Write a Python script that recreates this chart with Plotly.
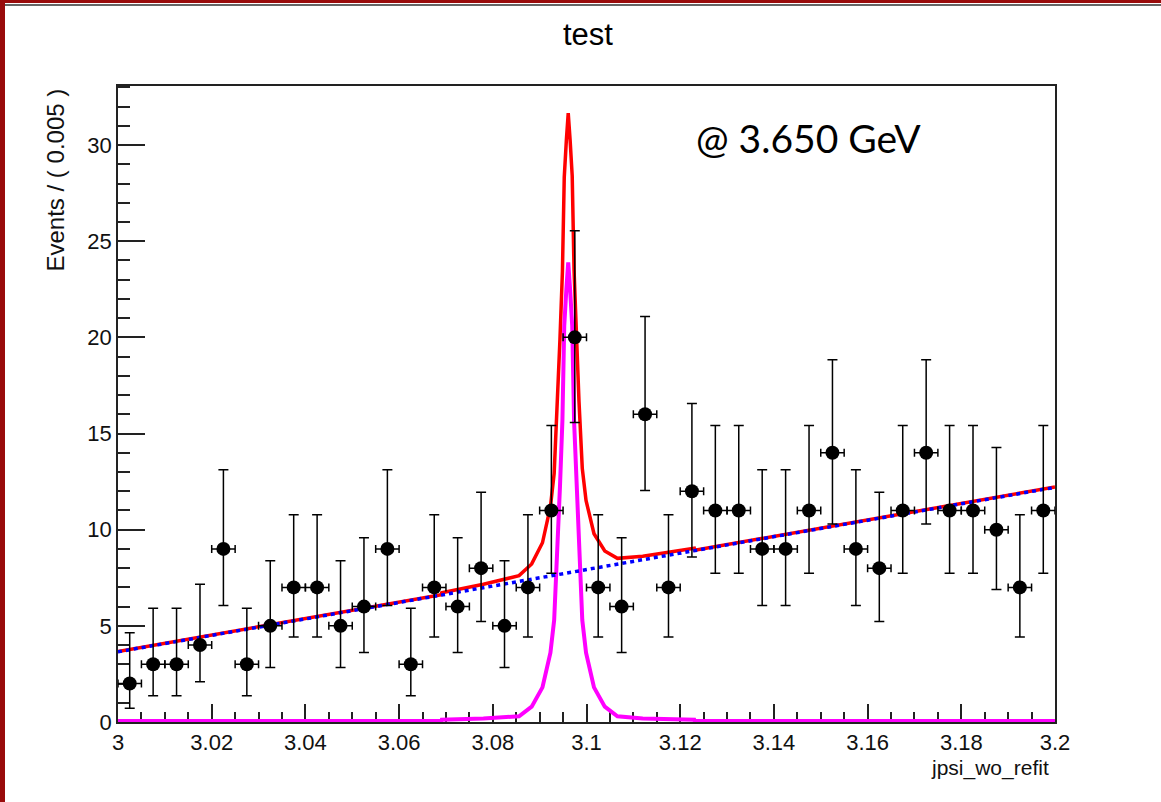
import plotly.graph_objects as go

# ---------------- data ----------------
bin_centers = [3.0025, 3.0075, 3.0125, 3.0175, 3.0225, 3.0275, 3.0325, 3.0375, 3.0425, 3.0475,
               3.0525, 3.0575, 3.0625, 3.0675, 3.0725, 3.0775, 3.0825, 3.0875, 3.0925, 3.0975,
               3.1025, 3.1075, 3.1125, 3.1175, 3.1225, 3.1275, 3.1325, 3.1375, 3.1425, 3.1475,
               3.1525, 3.1575, 3.1625, 3.1675, 3.1725, 3.1775, 3.1825, 3.1875, 3.1925, 3.1975]
counts = [2, 3, 3, 4, 9, 3, 5, 7, 7, 5,
          6, 9, 3, 7, 6, 8, 5, 7, 11, 20,
          7, 6, 16, 7, 12, 11, 11, 9, 9, 11,
          14, 9, 8, 11, 14, 11, 11, 10, 7, 11]
err_low = [1.29, 1.63, 1.63, 1.91, 2.94, 1.63, 2.16, 2.58, 2.58, 2.16,
           2.38, 2.94, 1.63, 2.58, 2.38, 2.77, 2.16, 2.58, 3.27, 4.43,
           2.58, 2.38, 3.96, 2.58, 3.42, 3.27, 3.27, 2.94, 2.94, 3.27,
           3.70, 2.94, 2.77, 3.27, 3.70, 3.27, 3.27, 3.11, 2.58, 3.27]
err_high = [2.64, 2.92, 2.92, 3.16, 4.11, 2.92, 3.38, 3.77, 3.77, 3.38,
            3.58, 4.11, 2.92, 3.77, 3.58, 3.95, 3.38, 3.77, 4.42, 5.54,
            3.77, 3.58, 5.08, 3.77, 4.56, 4.42, 4.42, 4.11, 4.11, 4.42,
            4.83, 4.11, 3.95, 4.42, 4.83, 4.42, 4.42, 4.27, 3.77, 4.42]
half_bin = 0.0025

# fitted curves
curve_x = [3.0000, 3.0690, 3.0691, 3.0780, 3.0856, 3.0883, 3.0906, 3.0923, 3.0931, 3.0938,
           3.09433, 3.09486, 3.09525, 3.0957, 3.0961, 3.0965, 3.09695, 3.09734, 3.09787, 3.0984,
           3.0991, 3.0999, 3.1016, 3.1039, 3.1066, 3.1120, 3.1230, 3.1231, 3.2000]
signal_y = [0.05, 0.05, 0.12, 0.18, 0.30, 0.80, 1.80, 3.60, 5.30, 8.80,
            12.2, 15.7, 20.6, 22.5, 23.9, 22.5, 20.6, 15.7, 12.2, 8.80,
            5.30, 3.60, 1.80, 0.80, 0.30, 0.18, 0.12, 0.05, 0.05]
total_y = [3.67, 6.62, 6.72, 7.16, 7.61, 8.22, 9.32, 11.20, 12.93, 16.46,
           19.88, 23.41, 28.32, 30.24, 31.66, 30.27, 28.39, 23.51, 20.03, 16.66,
           13.19, 11.52, 9.79, 8.89, 8.51, 8.62, 9.03, 8.93, 12.22]
bkg_x = [3.0, 3.2]
bkg_y = [3.65, 12.20]

x_tick_vals = [3.0, 3.02, 3.04, 3.06, 3.08, 3.1, 3.12, 3.14, 3.16, 3.18, 3.2]
x_tick_text = ["3", "3.02", "3.04", "3.06", "3.08", "3.1", "3.12", "3.14", "3.16", "3.18", "3.2"]
y_tick_vals = [0, 5, 10, 15, 20, 25, 30]
y_tick_text = ["0", "5", "10", "15", "20", "25", "30"]

# ---------------- figure ----------------
W, H = 1161, 802
L, R, T, B = 118, 106, 86, 80
pw, ph = W - L - R, H - T - B


def px(xp):
    return (xp - L) / pw


def py(yp):
    return (H - B - yp) / ph


root_font = "Liberation Sans, Arial, Helvetica, sans-serif"

fig = go.Figure()

fig.add_trace(go.Scatter(x=curve_x, y=total_y, mode="lines",
                         line=dict(color="#ff0000", width=3.5), showlegend=False))
fig.add_trace(go.Scatter(x=curve_x, y=signal_y, mode="lines",
                         line=dict(color="#ff00ff", width=4), showlegend=False))
fig.add_trace(go.Scatter(x=bkg_x, y=bkg_y, mode="lines",
                         line=dict(color="#0000ff", width=3.5, dash="4px,4px"), showlegend=False))
fig.add_trace(go.Scatter(
    x=bin_centers, y=counts, mode="markers",
    marker=dict(color="black", size=14, symbol="circle"),
    error_y=dict(type="data", symmetric=False, array=err_high, arrayminus=err_low,
                 color="black", thickness=1.5, width=5),
    error_x=dict(type="constant", value=half_bin, color="black", thickness=1.5, width=4),
    showlegend=False))

fig.update_layout(
    width=W, height=H, autosize=False,
    margin=dict(l=L, r=R, t=T, b=B, pad=0),
    paper_bgcolor="white", plot_bgcolor="white",
    font=dict(family=root_font, size=22, color="black"),
    xaxis=dict(range=[3.0, 3.2], showgrid=False, zeroline=False,
               showline=True, mirror=True, linecolor="#222", linewidth=1.5,
               tickmode="array", tickvals=x_tick_vals, ticktext=x_tick_text,
               ticks="inside", ticklen=18, tickwidth=1.5, tickcolor="#222",
               minor=dict(ticks="inside", ticklen=10, tickwidth=1.5, tickcolor="#222",
                          tick0=3.0, dtick=0.005),
               tickfont=dict(family=root_font, size=22, color="#111"),
               layer="below traces"),
    yaxis=dict(range=[0, 33.07], showgrid=False, zeroline=False,
               showline=True, mirror=True, linecolor="#222", linewidth=1.5,
               tickmode="array", tickvals=y_tick_vals, ticktext=y_tick_text,
               ticks="inside", ticklen=27, tickwidth=1.5, tickcolor="#222",
               minor=dict(ticks="inside", ticklen=12, tickwidth=1.5, tickcolor="#222",
                          tick0=0, dtick=1),
               tickfont=dict(family=root_font, size=22, color="#111"),
               layer="below traces"),
)

annotations = [
    dict(text="test", x=px(588), y=py(34), xref="paper", yref="paper",
         xanchor="center", yanchor="middle", showarrow=False,
         font=dict(family=root_font, size=31, color="black")),
    dict(text="@ 3.650 GeV", x=px(694), y=py(138), xref="paper", yref="paper",
         xanchor="left", yanchor="middle", showarrow=False,
         font=dict(family="Lato, Noto Sans, sans-serif", size=39, color="black")),
    dict(text="jpsi_wo_refit", x=px(1051), y=py(768), xref="paper", yref="paper",
         xanchor="right", yanchor="middle", showarrow=False,
         font=dict(family=root_font, size=21, color="#111")),
    dict(text="Events / ( 0.005 )", x=px(55), y=py(87), xref="paper", yref="paper",
         xanchor="center", yanchor="top", textangle=-90, showarrow=False,
         font=dict(family=root_font, size=24, color="#111")),
]
fig.update_layout(annotations=annotations)

border = "#990b0b"
fig.update_layout(shapes=[
    dict(type="rect", xref="paper", yref="paper", x0=px(0), x1=px(5), y0=py(H), y1=py(0),
         fillcolor=border, line=dict(width=0), layer="above"),
    dict(type="rect", xref="paper", yref="paper", x0=px(0), x1=px(W), y0=py(3), y1=py(0),
         fillcolor=border, line=dict(width=0), layer="above"),
    dict(type="line", xref="paper", yref="paper", x0=px(5), x1=px(W), y0=py(5), y1=py(5),
         line=dict(color="#333", width=1.5), layer="above"),
])

fig.write_html("out.html")
